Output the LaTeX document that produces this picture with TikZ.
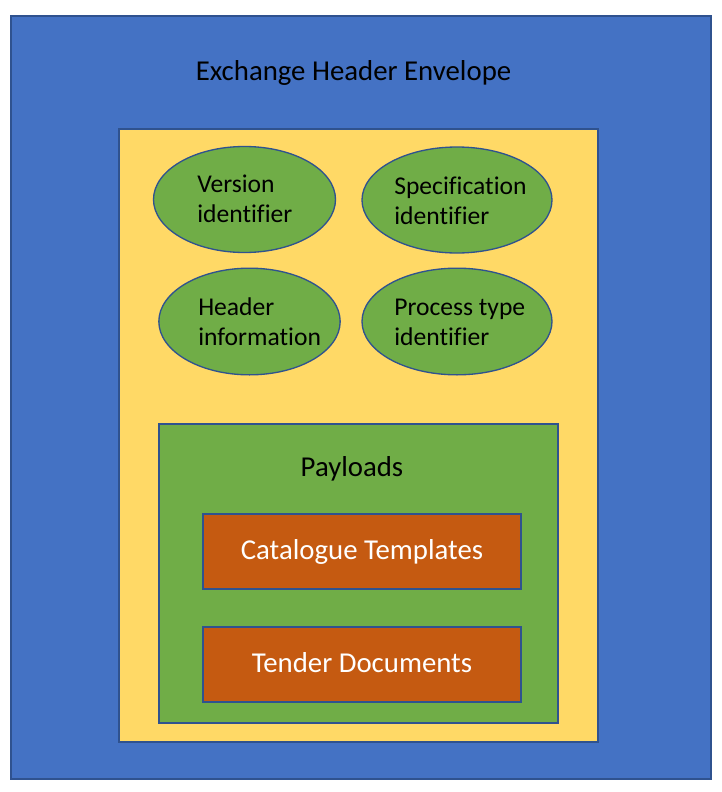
\documentclass[tikz,border=0pt]{standalone}
\usepackage{fontspec}
\setmainfont{Carlito}[Ligatures=NoCommon]
\usetikzlibrary{shapes.geometric}

\definecolor{envblue}{HTML}{4472C4}
\definecolor{edgeblue}{HTML}{2F528F}
\definecolor{hdryellow}{HTML}{FFD966}
\definecolor{idgreen}{HTML}{70AD47}
\definecolor{docorange}{HTML}{C55A11}

\tikzset{
	box/.style={draw=edgeblue, line width=1.3pt},
	oval/.style={ellipse, draw=edgeblue, line width=1pt, fill=idgreen, inner sep=0pt},
	idtext/.style={anchor=west, align=left, inner sep=0pt, font=\fontsize{19.2}{22.5}\selectfont},
	bigtext/.style={font=\fontsize{21.6}{26}\selectfont},
	doc/.style={box, bigtext, fill=docorange, text=white, text height=14pt, text depth=2pt, minimum width=238.5pt, minimum height=56.25pt}
}

\begin{document}
\begin{tikzpicture}[x=0.75pt,y=-0.75pt]
			\useasboundingbox (0,0) rectangle (721,792);
			
			% Envelope
			\draw[box, fill=envblue] (11,16) rectangle (711,779);
			\node (title) at (353.5,73) [bigtext] {Exchange Header Envelope};
			
			% Header part
			\draw[box, fill=hdryellow] (119,129) rectangle (598,742);
			
			\node[oval, minimum width=136.5pt, minimum height=79.5pt] (ver) at (244.5,199.5) {};
			\node[oval, minimum width=142.5pt, minimum height=79.5pt] (spec) at (457,200) {};
			\node[oval, minimum width=136pt, minimum height=80pt] (hdr) at (249.5,321.5) {};
			\node[oval, minimum width=142.5pt, minimum height=80pt] (proc) at (457,321.5) {};
			
			\node[idtext] (vertxt) at (197,199) {Version\\identifier};
			\node[idtext] (spectxt) at (394,201) {Specification\\identifier};
			\node[idtext] (hdrtxt) at (198,321.5) {Header\\information};
			\node[idtext] (proctxt) at (394,322.5) {Process type\\identifier};
			
			% Payloads
			\draw[box, fill=idgreen] (159,424) rectangle (558,723);
			\node (pay) at (352,469) [bigtext] {Payloads};
			
			\node[doc] (cat) at (362,551.5) {Catalogue Templates};
			\node[doc] (tender) at (362,664.5) {Tender Documents};
		\end{tikzpicture}
\end{document}
